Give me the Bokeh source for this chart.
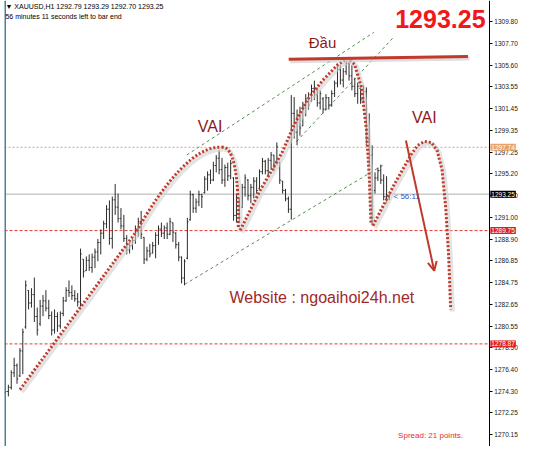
from bokeh.plotting import figure
from bokeh.models import (Range1d, LinearAxis, FixedTicker, PrintfTickFormatter, Span,
                          Label, Arrow, OpenHead)
from bokeh.embed import file_html
from bokeh.resources import INLINE

# ---- data (XAUUSD H1 bars) ----
bar_high = [1274.48, 1274.95, 1276.34, 1277.54, 1276.99, 1278.47, 1280.33, 1284.96, 1284.03, 1284.22,
            1285.24, 1282.36, 1283.10, 1283.57, 1284.03, 1283.10, 1281.99, 1282.18, 1281.90, 1281.99,
            1283.38, 1284.31, 1284.96, 1284.49, 1284.03, 1283.75, 1288.02, 1287.00, 1287.27, 1287.46,
            1287.55, 1288.02, 1288.94, 1289.87, 1290.70, 1292.19, 1292.65, 1293.02, 1294.23, 1293.30,
            1291.91, 1291.26, 1289.31, 1288.66, 1289.13, 1290.24, 1290.98, 1291.63, 1289.13, 1288.20,
            1288.48, 1288.66, 1289.59, 1290.24, 1290.52, 1290.24, 1290.52, 1290.98, 1290.52, 1289.59,
            1288.66, 1287.27, 1287.00, 1290.98, 1293.58, 1293.30, 1292.84, 1293.58, 1293.30, 1294.97,
            1295.43, 1295.62, 1296.36, 1297.01, 1297.47, 1296.73, 1296.08, 1296.27, 1296.54, 1294.88,
            1293.30, 1292.84, 1294.23, 1295.15, 1294.69, 1294.23, 1294.88, 1294.88, 1295.62, 1296.73,
            1296.54, 1296.73, 1297.29, 1297.01, 1298.21, 1296.36, 1294.51, 1293.76, 1293.02, 1302.76,
            1302.57, 1301.37, 1301.64, 1302.11, 1302.85, 1303.03, 1303.77, 1304.15, 1303.50, 1303.22,
            1302.57, 1302.85, 1302.57, 1303.22, 1304.15, 1305.63, 1305.63, 1305.35, 1306.09, 1306.00,
            1305.63, 1304.42, 1303.96, 1303.50, 1303.68, 1303.50, 1301.00, 1297.94, 1295.34, 1295.80,
            1296.08, 1295.15, 1294.97, 1293.29]
bar_low = [1273.37, 1273.83, 1274.48, 1275.69, 1275.04, 1275.69, 1275.97, 1280.33, 1282.18, 1282.36,
           1280.97, 1279.68, 1280.60, 1281.53, 1281.99, 1281.25, 1279.68, 1279.86, 1280.04, 1280.33,
           1281.53, 1282.92, 1283.38, 1283.10, 1282.92, 1282.45, 1282.45, 1285.24, 1285.88, 1285.88,
           1285.70, 1286.16, 1286.81, 1287.46, 1288.94, 1289.96, 1288.39, 1288.02, 1291.26, 1290.52,
           1289.87, 1288.66, 1287.46, 1287.55, 1287.92, 1288.48, 1289.13, 1288.94, 1286.53, 1286.81,
           1287.18, 1287.55, 1287.09, 1288.39, 1289.13, 1288.94, 1288.94, 1289.31, 1288.66, 1288.02,
           1286.81, 1284.68, 1284.49, 1287.00, 1290.70, 1291.45, 1291.45, 1292.09, 1291.91, 1293.30,
           1293.58, 1294.23, 1294.51, 1295.34, 1295.15, 1294.23, 1293.95, 1294.51, 1294.69, 1290.70,
           1290.52, 1290.70, 1291.91, 1293.02, 1292.65, 1292.37, 1292.84, 1293.30, 1293.76, 1295.15,
           1295.15, 1294.88, 1295.62, 1295.43, 1296.08, 1294.23, 1293.30, 1292.56, 1291.45, 1290.80,
           1298.58, 1297.94, 1298.86, 1299.79, 1300.72, 1301.37, 1302.11, 1302.29, 1301.64, 1301.37,
           1301.00, 1301.37, 1301.37, 1301.64, 1302.57, 1303.50, 1303.77, 1303.50, 1304.70, 1304.15,
           1303.22, 1302.57, 1301.92, 1301.92, 1302.11, 1297.94, 1296.08, 1290.24, 1293.30, 1294.51,
           1294.23, 1292.65, 1292.37, 1292.70]
bar_open = [1274.2, 1274.3, 1274.7, 1276.1, 1276.8, 1275.8, 1278.2, 1280.5, 1284.0, 1282.8,
            1283.6, 1281.5, 1280.8, 1282.5, 1283.0, 1282.3, 1281.6, 1280.2, 1281.5, 1280.6,
            1281.8, 1283.0, 1284.0, 1283.8, 1283.5, 1283.2, 1282.9, 1287.0, 1285.9, 1286.9,
            1286.2, 1287.2, 1287.7, 1288.6, 1289.5, 1290.4, 1291.8, 1289.0, 1292.7, 1292.0,
            1290.9, 1290.2, 1289.0, 1287.9, 1288.3, 1288.8, 1289.9, 1290.6, 1289.1, 1287.0,
            1287.8, 1287.6, 1288.3, 1289.3, 1289.9, 1289.5, 1290.0, 1289.4, 1290.5, 1289.5,
            1288.4, 1287.2, 1285.2, 1287.1, 1290.8, 1293.2, 1291.9, 1292.5, 1293.2, 1293.4,
            1294.7, 1295.1, 1294.6, 1296.0, 1296.7, 1295.6, 1294.6, 1295.8, 1295.0, 1294.8,
            1291.2, 1292.8, 1292.0, 1293.9, 1294.6, 1293.1, 1293.9, 1294.5, 1293.8, 1295.4,
            1296.4, 1295.5, 1296.5, 1297.0, 1296.2, 1296.3, 1294.5, 1293.6, 1292.8, 1291.8,
            1301.0, 1299.2, 1300.8, 1299.8, 1301.6, 1302.4, 1302.2, 1303.4, 1302.8, 1302.0,
            1302.4, 1301.4, 1302.5, 1301.8, 1302.9, 1303.9, 1305.2, 1304.2, 1305.0, 1305.8,
            1304.6, 1303.6, 1302.9, 1303.4, 1302.3, 1303.1, 1298.5, 1297.0, 1293.6, 1294.8,
            1295.5, 1294.6, 1293.0, 1292.79]
bar_close = [1274.3, 1274.7, 1276.1, 1276.8, 1275.5, 1278.2, 1280.0, 1284.5, 1282.8, 1283.6,
             1281.5, 1280.2, 1282.5, 1283.0, 1282.3, 1281.6, 1280.2, 1281.5, 1280.6, 1281.8,
             1283.0, 1284.0, 1283.8, 1283.5, 1283.2, 1282.9, 1287.5, 1285.8, 1286.9, 1286.2,
             1287.2, 1287.7, 1288.6, 1289.5, 1290.4, 1291.8, 1289.0, 1292.7, 1292.0, 1290.9,
             1290.2, 1289.0, 1287.9, 1288.3, 1288.8, 1289.9, 1290.6, 1289.4, 1287.0, 1287.8,
             1287.5, 1288.3, 1289.3, 1289.9, 1289.5, 1290.0, 1289.4, 1290.6, 1289.6, 1288.4,
             1287.2, 1285.2, 1286.8, 1290.6, 1293.2, 1291.9, 1292.5, 1293.2, 1293.0, 1294.7,
             1295.1, 1294.6, 1296.0, 1296.7, 1295.6, 1294.6, 1295.8, 1295.0, 1296.2, 1291.2,
             1292.9, 1291.0, 1293.9, 1294.8, 1293.1, 1293.9, 1294.5, 1293.6, 1295.4, 1296.4,
             1295.5, 1296.5, 1297.0, 1295.8, 1297.8, 1294.6, 1293.6, 1292.8, 1291.8, 1301.0,
             1299.2, 1300.8, 1299.6, 1301.6, 1302.4, 1301.8, 1303.4, 1302.8, 1302.0, 1302.9,
             1301.4, 1302.5, 1301.8, 1302.9, 1303.9, 1305.2, 1304.2, 1305.0, 1305.8, 1304.6,
             1303.6, 1302.9, 1303.6, 1302.3, 1303.1, 1298.5, 1297.0, 1291.0, 1294.8, 1295.5,
             1294.6, 1293.0, 1292.79, 1293.25]

axis_ticks = [1309.80, 1307.70, 1305.60, 1303.55, 1301.45, 1299.35, 1297.25, 1295.20, 1293.10,
              1291.00, 1288.90, 1286.85, 1284.75, 1282.65, 1280.55, 1278.50, 1276.40, 1274.30,
              1272.25, 1270.15]

level_orange = 1297.74
level_bid = 1293.25
level_red1 = 1289.75
level_red2 = 1278.87

header_line1 = "\u25bc XAUUSD,H1  1292.79 1293.29 1292.70 1293.25"
header_line2 = "56 minutes 11 seconds left to bar end"

# annotation shapes in (bar index, price)
left_diag_x = [5.0, 45.35]
left_diag_y = [1274.48, 1289.68]
v_up_x = [81.3, 88.3, 95.7, 100.1, 104.5, 109.8, 115.2, 118.6, 120.9, 123.3, 125.0, 126.0, 126.6]
v_up_y = [1289.78, 1293.67, 1297.19, 1299.97, 1302.29, 1304.15, 1305.72, 1306.28, 1305.72,
          1303.50, 1299.51, 1294.88, 1290.52]
r_sh_x = [127.3, 134.4, 140.4, 142.8, 145.1, 147.5, 149.5, 151.2, 152.5, 153.5, 154.2]
r_sh_y = [1290.24, 1294.05, 1297.01, 1297.94, 1298.30, 1298.21, 1297.47, 1295.62, 1291.91,
          1287.27, 1282.18]

FONT = "Liberation Sans"
DOT = "#c0392b"
X_AXIS_POS = 167.6
X_LO, X_HI = -0.34, 177.7

xs = list(range(len(bar_high)))
p = figure(width=518, height=446, output_backend="svg", toolbar_location=None,
           x_range=Range1d(X_LO, X_HI), y_range=Range1d(1269.02, 1311.84),
           x_axis_location=None, y_axis_location=None,
           min_border_left=4, min_border_right=0, min_border_top=0, min_border_bottom=0)
p.outline_line_color = None
p.xgrid.visible = False
p.ygrid.visible = False
p.background_fill_color = "white"

ax = LinearAxis(fixed_location=X_AXIS_POS)
ax.ticker = FixedTicker(ticks=axis_ticks)
ax.formatter = PrintfTickFormatter(format="%.2f")
ax.major_label_text_font = FONT
ax.major_label_text_font_size = "6.5px"
ax.major_label_text_color = "#202020"
ax.major_tick_in = 0
ax.major_tick_out = 3
ax.minor_tick_out = 0
ax.minor_tick_in = 0
ax.major_label_standoff = 2
ax.axis_line_color = "black"
ax.major_tick_line_color = "black"
p.add_layout(ax, "right")

# horizontal levels (stop at the price axis)
def hlevel(val, color, dash):
    p.line([X_LO, X_AXIS_POS], [val, val], line_color=color, line_dash=dash, line_width=1)

hlevel(level_orange, "#e6a46a", "2 2")
hlevel(level_bid, "#b0b0b0", "solid")
hlevel(level_red1, "#e53935", "3 2")
hlevel(level_red2, "#e53935", "3 2")
p.add_layout(Span(location=X_LO, dimension="height", line_color="#4a8494", line_width=3))

# green channel lines
green = "#4f8f4f"
p.line([62.8, 127.6], [1297.01, 1308.78], line_color=green, line_dash="3 3", line_width=1)
p.line([100.8, 134.4], [1298.3, 1308.3], line_color=green, line_dash="3 3", line_width=1)
p.line([62.1, 131.0], [1284.59, 1296.08], line_color=green, line_dash="3 3", line_width=1)

# OHLC bars
bar_col = "#2b2b2b"
p.segment(x0=xs, y0=bar_low, x1=xs, y1=bar_high, line_color=bar_col, line_width=1)
p.segment(x0=[x - 0.4 for x in xs], y0=bar_open, x1=xs, y1=bar_open, line_color=bar_col, line_width=1)
p.segment(x0=xs, y0=bar_close, x1=[x + 0.4 for x in xs], y1=bar_close, line_color=bar_col, line_width=1)

# shadows + dotted pattern lines
def dotted(xv, yv):
    p.line([x + 0.6 for x in xv], [y - 0.2 for y in yv], line_color="#d0d0d0", line_width=5, line_alpha=0.6)
    p.line(xv, yv, line_color=DOT, line_width=3, line_dash="2 2")

def dotted_bez(x0, y0, x1, y1, cx0, cy0, cx1, cy1):
    p.bezier(x0=[x0 + 0.6], y0=[y0 - 0.2], x1=[x1 + 0.6], y1=[y1 - 0.2],
             cx0=[cx0 + 0.6], cy0=[cy0 - 0.2], cx1=[cx1 + 0.6], cy1=[cy1 - 0.2],
             line_color="#d0d0d0", line_width=5, line_alpha=0.6)
    p.bezier(x0=[x0], y0=[y0], x1=[x1], y1=[y1], cx0=[cx0], cy0=[cy0], cx1=[cx1], cy1=[cy1],
             line_color=DOT, line_width=3, line_dash="2 2")

dotted(left_diag_x, left_diag_y)
dotted_bez(45.35, 1289.68, 74.9, 1297.75, 54.75, 1294.23, 65.5, 1297.94)
dotted_bez(74.9, 1297.75, 80.62, 1289.87, 78.94, 1297.94, 80.95, 1295.15)
dotted(v_up_x, v_up_y)
dotted(r_sh_x, r_sh_y)

# head line
p.line([98.6, 160.7], [1306.0, 1306.27], line_color="#d0d0d0", line_width=4, line_alpha=0.7)
p.line([98.09, 160.2], [1306.19, 1306.46], line_color="#c0392b", line_width=3)

# arrow
p.add_layout(Arrow(end=OpenHead(size=9, line_color="#c0392b", line_width=2),
                   x_start=138.7, y_start=1298.4, x_end=148.5, y_end=1285.9,
                   line_color="#c0392b", line_width=2))

# texts
def lab(x, y, text, size, color, align="left", baseline="middle", bold=False, font=FONT, **kw):
    p.add_layout(Label(x=x, y=y, text=text, text_font=font, text_font_size=size,
                       text_color=color, text_align=align, text_baseline=baseline,
                       text_font_style="bold" if bold else "normal", **kw))

lab(0.0, 1311.3, header_line1, "7px", "black")
lab(0.0, 1310.35, header_line2, "7px", "black")
lab(166.3, 1310.1, "1293.25", "25px", "#f01818", align="right", bold=True)
lab(109.8, 1307.8, "Đầu", "15px", "#8b1a1a", align="center")
lab(70.9, 1299.7, "VAI", "16px", "#8b1a1a", align="center")
lab(145.1, 1300.6, "VAI", "16px", "#8b1a1a", align="center")
lab(77.6, 1283.3, "Website : ngoaihoi24h.net", "16px", "#a02828")
lab(136.0, 1270.1, "Spread: 21 points.", "8px", "#e03030")
lab(134.4, 1293.0, "< 56:11", "8px", "#3a4fc0")

# price boxes on axis
for val, bg in [(level_orange, "#e6a46a"), (level_bid, "black"), (level_red1, "#e02020"),
                (level_red2, "#e02020")]:
    p.add_layout(Label(x=X_AXIS_POS, y=val, x_offset=1, text="%.2f" % val, text_font=FONT,
                       text_font_size="6.5px", text_color="white", text_align="left",
                       text_baseline="middle", background_fill_color=bg, padding=1))

open("out.html", "w").write(file_html(p, INLINE))
